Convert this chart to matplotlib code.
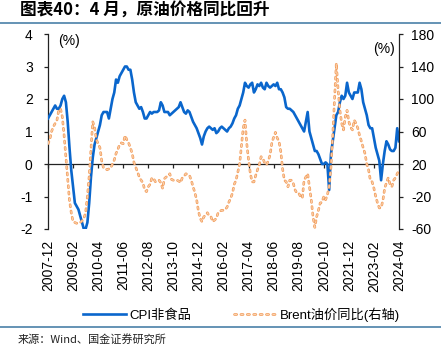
import matplotlib
matplotlib.use("Agg")
import matplotlib.pyplot as plt
import matplotlib.patheffects as pe
from matplotlib.lines import Line2D
import pandas as pd

plt.rcParams['font.family'] = ['Liberation Sans', 'Noto Sans CJK SC']
plt.rcParams['axes.unicode_minus'] = False

# Monthly observations, 2007-12 .. 2024-04
months = pd.period_range("2007-12", "2024-04", freq="M")

# CPI non-food, YoY (%)
cpi_nonfood = [
    1.4, 1.5, 1.6, 1.7, 1.8, 1.7, 1.7, 1.8, 2.0, 2.1, 1.9, 1.3, 0.5,
    -0.2, -0.7, -1.2, -1.3, -1.4, -1.6, -1.8, -2.0, -2.0, -1.8, -1.2, -0.4,
    0.2, 0.6, 0.8, 1.0, 1.2, 1.5, 1.6, 1.6, 1.6, 1.4, 1.7, 2.0,
    2.2, 2.6, 2.5, 2.7, 2.8, 2.9, 3.0, 3.0, 2.9, 2.9, 2.6, 2.2,
    1.9, 1.8, 1.7, 1.75, 1.6, 1.4, 1.4, 1.5, 1.6, 1.55, 1.6, 1.6,
    1.6, 1.65, 1.9, 1.8, 1.6, 1.6, 1.6, 1.5, 1.55, 1.6, 1.65, 1.7,
    1.75, 1.9, 1.75, 1.6, 1.55, 1.65, 1.6, 1.45, 1.3, 1.2, 1.1, 0.95,
    0.8, 0.6, 0.85, 1.0, 1.1, 1.15, 1.1, 1.05, 1.1, 0.95, 1.0, 1.1,
    1.15, 1.1, 1.05, 1.0, 1.1, 1.15, 1.25, 1.4, 1.5, 1.7, 1.8, 2.0,
    2.2, 2.5, 2.4, 2.35, 2.45, 2.5, 2.2, 2.3, 2.45, 2.4, 2.5, 2.35,
    2.3, 2.5, 2.4, 2.35, 2.4, 2.45, 2.4, 2.5, 2.3, 2.3, 2.2, 2.05,
    1.75, 1.7, 1.7, 1.65, 1.6, 1.5, 1.4, 1.3, 1.2, 1.1, 1.0, 1.3,
    1.6, 1.0, 0.8, 0.6, 0.4, 0.4, 0.3, 0.15, 0.0, 0.0, 0.05, 0.0,
    -0.8, 0.3, 0.7, 1.1, 1.5, 1.6, 1.9, 2.1, 2.0, 2.1, 2.5, 2.2,
    2.1, 2.0, 2.2, 2.2, 2.2, 2.5, 2.3, 1.9, 1.7, 1.5, 1.2, 1.1,
    1.1, 0.8, 0.5, 0.3, 0.1, -0.5, 0.0, 0.4, 0.7, 0.6, 0.45, 0.4,
    0.4, 0.5, 1.1, 0.7,
]

# Brent crude price, YoY (%), right axis
brent_yoy = [
    45, 50, 60, 66, 70, 74, 86, 88, 78, 55, 28, 0, -25,
    -40, -51, -52, -53, -52, -52, -50, -47, -40, -20, 5, 38,
    72, 65, 50, 45, 40, 24, 15, 14, 13, 14, 15, 20,
    25, 33, 38, 44, 46, 45, 55, 50, 46, 40, 33, 22,
    16, 10, 4, 0, -3, -12, -14, -8, -5, 3, 2, -2,
    -1, 0, -3, -10, 2, 4, 5, 8, 1, 0, 0, 0,
    -1, -3, 3, 5, 8, 7, 6, 0, -8, -15, -24, -38,
    -47, -51, -45, -43, -40, -44, -45, -51, -49, -47, -40, -38,
    -37, -37, -36, -33, -27, -22, -16, -5, 0, 10, 20, 42,
    64, 74, 45, 25, 8, -2, -2, 6, 13, 19, 29, 27,
    21, 19, 24, 31, 46, 53, 59, 52, 48, 35, 14, 0,
    -2, -8, 0, 0, -4, -12, -16, -16, -20, -22, 0, 4,
    8, -8, -24, -45, -58, -45, -37, -28, -27, -20, -24, -18,
    -8, 16, 55, 100, 144, 111, 86, 70, 62, 78, 86, 72,
    65, 62, 74, 70, 64, 55, 48, 40, 33, 20, 13, 0,
    -2, -10, -20, -28, -34, -34, -25, -10, -3, 3, -5, -8,
    0, 3, 8, 12,
]

tick_step = 14
tick_labels = [str(m) for m in months[::tick_step]]

x = list(range(len(months)))
tick_pos = x[::tick_step]

fig = plt.figure(figsize=(4.41, 3.46), dpi=100)
W, H = 441, 346
ax = fig.add_axes([48 / W, 117 / H, 351 / W, 195 / H])

blue = '#0A66CC'
ax.plot(x, cpi_nonfood, color=blue, lw=1.9, solid_joinstyle='round',
        label='CPI非食品', zorder=3)
ax.set_xlim(0, len(months) - 1)
ax.set_ylim(-2, 4)
ax.set_yticks(range(-2, 5))
ax.set_xticks(tick_pos)

for s in ('top', 'right'):
    ax.spines[s].set_visible(False)
ax.spines['bottom'].set_position(('data', 0))
for s in ('left', 'bottom'):
    ax.spines[s].set_color('#222222')
    ax.spines[s].set_linewidth(0.9)
ax.tick_params(axis='x', direction='out', length=3, width=0.9,
               color='#222222', labelbottom=False)
ax.tick_params(axis='y', direction='out', length=3, width=0.9,
               color='#222222', labelsize=10, pad=8)

# date labels along the bottom edge
sec = ax.secondary_xaxis('bottom')
sec.set_xticks(tick_pos, labels=tick_labels, rotation=90)
sec.tick_params(length=0, pad=8, labelsize=10)
sec.spines['bottom'].set_visible(False)

ax2 = ax.twinx()
ax2.set_ylim(-60, 180)
ax2.set_yticks(range(-60, 181, 40))
for s in ('top', 'left', 'bottom'):
    ax2.spines[s].set_visible(False)
ax2.spines['right'].set_color('#222222')
ax2.spines['right'].set_linewidth(0.9)
ax2.tick_params(axis='y', direction='out', length=3, width=0.9,
                color='#222222', labelsize=10, pad=6)

ax2.plot(x, brent_yoy, color='#FBD2AE', lw=0.8, dashes=(2.0, 3.75),
         dash_capstyle='round', label='Brent油价同比(右轴)', zorder=3,
         path_effects=[pe.Stroke(linewidth=1.9, foreground='#F29D5C'),
                       pe.Normal()])

ax.text(0.028, 0.964, '(%)', transform=ax.transAxes, fontsize=10,
        ha='left', va='center')
ax2.text(0.989, 0.923, '(%)', transform=ax2.transAxes, fontsize=10,
         ha='right', va='center')

h1, l1 = ax.get_legend_handles_labels()
h2, l2 = ax2.get_legend_handles_labels()
fig.legend(h1 + h2, l1 + l2, loc='center', bbox_to_anchor=(0.548, 0.09),
           ncol=2, frameon=False, fontsize=9.5, handlelength=3.2,
           handletextpad=0.3, columnspacing=3.2)

fig.text(20 / W, 1 - 11 / H, '图表40：4 月，原油价格同比回升', fontsize=12,
         fontweight='bold', style='italic', ha='left', va='center',
         family=['Noto Sans CJK SC'])

rule_color = '#3A75A0'
for yy in (23, 327):
    fig.add_artist(Line2D([0, 1], [1 - yy / H] * 2, color=rule_color, lw=1.1,
                          transform=fig.transFigure))

fig.text(18 / W, 1 - 339 / H, '来源：Wind、国金证券研究所', fontsize=8,
         ha='left', va='center', family=['Noto Sans CJK SC'], color='#222222')

fig.savefig('out.png', dpi=100)
